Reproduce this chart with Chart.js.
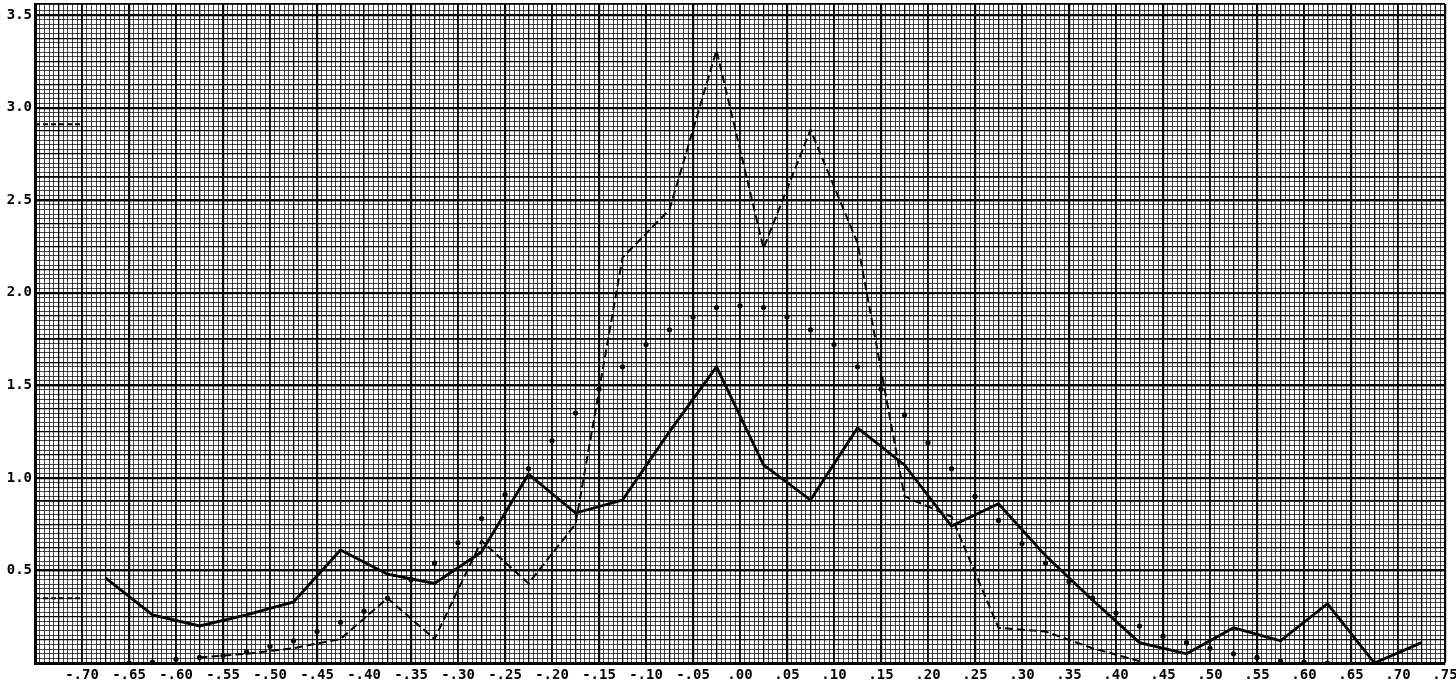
<!DOCTYPE html>
<html>
<head>
<meta charset="utf-8">
<script src="https://cdn.jsdelivr.net/npm/chart.js@4.4.1/dist/chart.umd.min.js"></script>
<style>
    html, body { margin: 0; padding: 0; background: #fff; }
    #wrap { width: 1456px; height: 686px; }
</style>
</head>
<body>
<div id="wrap"><canvas id="chart" width="1456" height="686"></canvas></div>
<script>
// Class midpoints of the observed frequency polygon (solid line)
const classMidpoints = [
    -0.675, -0.625, -0.575, -0.525, -0.475, -0.425, -0.375, -0.325, -0.275, -0.225,
    -0.175, -0.125, -0.075, -0.025, 0.025, 0.075, 0.125, 0.175, 0.225, 0.275,
    0.325, 0.375, 0.425, 0.475, 0.525, 0.575, 0.625, 0.675, 0.725
];
const solidValues = [
    0.46, 0.26, 0.20, 0.26, 0.33, 0.61, 0.48, 0.43, 0.60, 1.02,
    0.81, 0.88, 1.25, 1.60, 1.07, 0.88, 1.27, 1.07, 0.74, 0.86,
    0.58, 0.34, 0.11, 0.05, 0.19, 0.12, 0.32, 0.00, 0.11
];

// Second polygon (dashed line)
const dashedMidpoints = [
    -0.575, -0.525, -0.475, -0.425, -0.375, -0.325, -0.275, -0.225, -0.175, -0.125,
    -0.075, -0.025, 0.025, 0.075, 0.125, 0.175, 0.225, 0.275, 0.325, 0.375, 0.425
];
const dashedValues = [
    0.03, 0.05, 0.08, 0.13, 0.35, 0.13, 0.66, 0.43, 0.75, 2.19,
    2.45, 3.31, 2.24, 2.88, 2.27, 0.90, 0.79, 0.19, 0.17, 0.08, 0.01
];

// Fitted curve, plotted as single dots
const curveX = [
    -0.650, -0.625, -0.600, -0.575, -0.550, -0.525, -0.500, -0.475, -0.450, -0.425,
    -0.400, -0.375, -0.350, -0.325, -0.300, -0.275, -0.250, -0.225, -0.200, -0.175,
    -0.150, -0.125, -0.100, -0.075, -0.050, -0.025, 0.000, 0.025, 0.050, 0.075,
    0.100, 0.125, 0.150, 0.175, 0.200, 0.225, 0.250, 0.275, 0.300, 0.325,
    0.350, 0.375, 0.400, 0.425, 0.450, 0.475, 0.500, 0.525, 0.550, 0.575,
    0.600, 0.625
];
const curveValues = [
    0.00, 0.005, 0.02, 0.03, 0.04, 0.06, 0.09, 0.12, 0.17, 0.22,
    0.28, 0.35, 0.45, 0.54, 0.65, 0.78, 0.91, 1.05, 1.20, 1.35,
    1.48, 1.60, 1.72, 1.80, 1.87, 1.92, 1.93, 1.92, 1.87, 1.80,
    1.72, 1.60, 1.48, 1.34, 1.19, 1.05, 0.90, 0.77, 0.645, 0.54,
    0.44, 0.35, 0.27, 0.20, 0.145, 0.11, 0.08, 0.05, 0.03, 0.01,
    0.005, 0.00
];

// Short pencil marks on the vertical axis
const axisMarkX = [-0.75, -0.70];
const axisMarkValues = [2.91, 0.35];

// Tick labels
const xTickLabels = [
    '-.70', '-.65', '-.60', '-.55', '-.50', '-.45', '-.40', '-.35', '-.30', '-.25',
    '-.20', '-.15', '-.10', '-.05', '.00', '.05', '.10', '.15', '.20', '.25',
    '.30', '.35', '.40', '.45', '.50', '.55', '.60', '.65', '.70', '.75'
];
const yTickLabels = ['0.5', '1.0', '1.5', '2.0', '2.5', '3.0', '3.5'];

const X_MIN = -0.75, X_MAX = 0.75, Y_MIN = 0, Y_MAX = 3.56;
const labelFont = { family: "'DejaVu Sans Mono', monospace", size: 14, weight: 'bold' };

function points(xs, ys) {
    return xs.map((x, i) => ({ x: x, y: ys[i] }));
}

// Graph paper layer: a scale that only draws grid lines
function paperScale(axis, position, step, color, width, z) {
    return {
        type: 'linear', axis: axis, position: position,
        min: axis === 'x' ? X_MIN : Y_MIN,
        max: axis === 'x' ? X_MAX : Y_MAX,
        z: z,
        ticks: { display: false, stepSize: step, autoSkip: false },
        grid: { color: color, lineWidth: width, drawTicks: false },
        border: { display: false }
    };
}

// No room reserved for labels that overhang the plot edges
function trimPadding(scale) {
    scale.paddingTop = 0;
    scale.paddingBottom = 0;
    scale.paddingLeft = 0;
    scale.paddingRight = 0;
}

const datasets = [
    {
        label: 'fitted',
        data: points(curveX, curveValues),
        showLine: false,
        pointRadius: 2.6,
        pointBackgroundColor: '#000',
        pointBorderWidth: 0
    },
    {
        label: 'dashed',
        data: points(dashedMidpoints, dashedValues),
        showLine: true,
        borderColor: '#000',
        borderWidth: 2,
        borderDash: [8, 4],
        pointRadius: 0,
        tension: 0
    },
    {
        label: 'solid',
        data: points(classMidpoints, solidValues),
        showLine: true,
        borderColor: '#000',
        borderWidth: 2.8,
        pointRadius: 0,
        tension: 0
    }
];
axisMarkValues.forEach(v => {
    datasets.push({
        label: 'mark',
        data: points(axisMarkX, [v, v]),
        showLine: true,
        borderColor: '#000',
        borderWidth: 2,
        borderDash: [5, 3],
        pointRadius: 0
    });
});

new Chart(document.getElementById('chart').getContext('2d'), {
    type: 'scatter',
    data: { datasets: datasets },
    options: {
        responsive: false,
        animation: false,
        events: [],
        layout: { padding: { top: 1, right: 11, left: 0, bottom: 0 } },
        plugins: { legend: { display: false }, tooltip: { enabled: false } },
        scales: {
            xFine: paperScale('x', 'bottom', 0.005, 'rgba(0,0,0,0.72)', 1, -3),
            yFine: paperScale('y', 'left', 0.025, 'rgba(0,0,0,0.72)', 1, -3),
            xMid: paperScale('x', 'bottom', 0.025, '#000', 1.3, -2),
            yMid: paperScale('y', 'left', 0.125, '#000', 1.3, -2),
            x: {
                type: 'linear', position: 'bottom', min: X_MIN, max: X_MAX,
                afterFit: scale => { scale.height = 23; trimPadding(scale); },
                ticks: {
                    stepSize: 0.05, autoSkip: false, maxRotation: 0, padding: 4,
                    color: '#000', font: labelFont,
                    callback: value => {
                        const i = Math.round((value + 0.70) / 0.05);
                        return i >= 0 && i < xTickLabels.length ? xTickLabels[i] : null;
                    }
                },
                grid: {
                    drawTicks: false,
                    color: '#000',
                    // heavy rulings fall on the odd multiples of .05
                    lineWidth: ctx => (Math.abs(Math.round(ctx.tick.value * 100)) % 10 === 5 ? 2.2 : 1.3)
                },
                border: { color: '#000', width: 3 }
            },
            y: {
                type: 'linear', position: 'left', min: Y_MIN, max: Y_MAX,
                afterFit: scale => { scale.width = 35; trimPadding(scale); },
                ticks: {
                    stepSize: 0.5, padding: 3, includeBounds: false,
                    color: '#000', font: labelFont,
                    callback: value => {
                        const i = Math.round(value / 0.5) - 1;
                        if (Math.abs(value - (i + 1) * 0.5) > 0.001) return null;
                        return i >= 0 && i < yTickLabels.length ? yTickLabels[i] : null;
                    }
                },
                grid: {
                    drawTicks: false,
                    color: '#000',
                    lineWidth: 2.2
                },
                border: { color: '#000', width: 3 }
            }
        }
    }
});
</script>
</body>
</html>
